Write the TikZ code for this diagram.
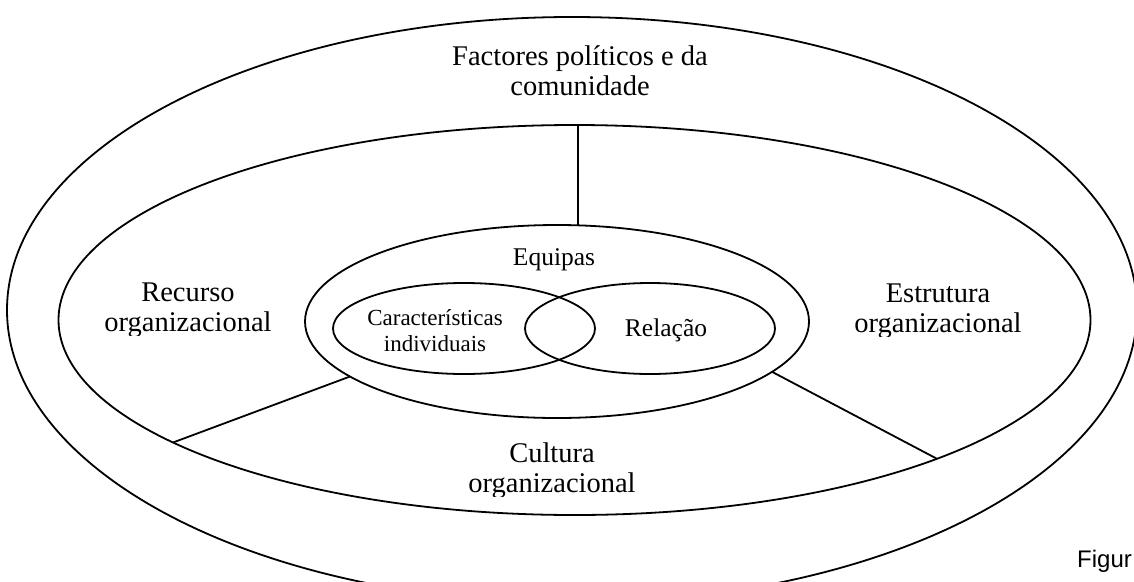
\documentclass[tikz,border=0pt]{standalone}
\usepackage{fontspec}
\setmainfont{Liberation Serif}
\newfontfamily\figfont{Liberation Sans}
\usetikzlibrary{shapes.geometric}
\begin{document}
\begin{tikzpicture}[x=1pt,y=-1pt,
  ring/.style={draw, ellipse, line width=1.8pt, inner sep=0pt, outer sep=0pt},
  link/.style={line width=1.8pt},
  big/.style={font=\fontsize{28.5}{29.5}\selectfont, align=center, inner sep=0pt, anchor=base},
  mediumtxt/.style={font=\fontsize{25.5}{27}\selectfont, align=center, inner sep=0pt, anchor=base},
  smalltxt/.style={font=\fontsize{23}{26}\selectfont, align=center, inner sep=0pt, anchor=base}]
\useasboundingbox (0,0) rectangle (1134,581);
\node[ring, minimum width=1130pt, minimum height=586pt] (outer) at (572,310) {};
\node[ring, minimum width=1032pt, minimum height=390pt] (mid) at (574.5,320) {};
\node[ring, minimum width=504pt, minimum height=193pt] (team) at (557,321.5) {};
\node[ring, minimum width=262pt, minimum height=91pt] (indiv) at (464,328.5) {};
\node[ring, minimum width=250pt, minimum height=91pt] (rel) at (650,328.5) {};
\draw[link] ([shift={(3.5,-195)}]mid.center) -- ([shift={(21,-96.2)}]team.center);
\draw[link] ([shift={(-401.5,122.5)}]mid.center) -- ([shift={(-207,55)}]team.center);
\draw[link] ([shift={(362.5,138.8)}]mid.center) -- ([shift={(215,50.3)}]team.center);
\node[big] (pol) at (580,95) {Factores políticos e da\\comunidade};
\begin{scope}
  \clip (60,250) rectangle (320,335);
  \node[big] (rec) at (188,331) {Recurso\\organizacional};
\end{scope}
\begin{scope}
  \clip (820,250) rectangle (1060,336);
  \node[big] (est) at (938,332) {Estrutura\\organizacional};
\end{scope}
\begin{scope}
  \clip (420,420) rectangle (690,496);
  \node[big] (cul) at (552,492) {Cultura\\organizacional};
\end{scope}
\node[mediumtxt] (eq) at (554,265) {Equipas};
\node[smalltxt] (car) at (435,351) {Características\\individuais};
\node[mediumtxt] (rl) at (666,336) {Relação};
\node[font=\figfont\fontsize{24}{26}\selectfont, anchor=base west, inner sep=0pt] (fig) at (1077,567) {Figur};
\end{tikzpicture}
\end{document}
